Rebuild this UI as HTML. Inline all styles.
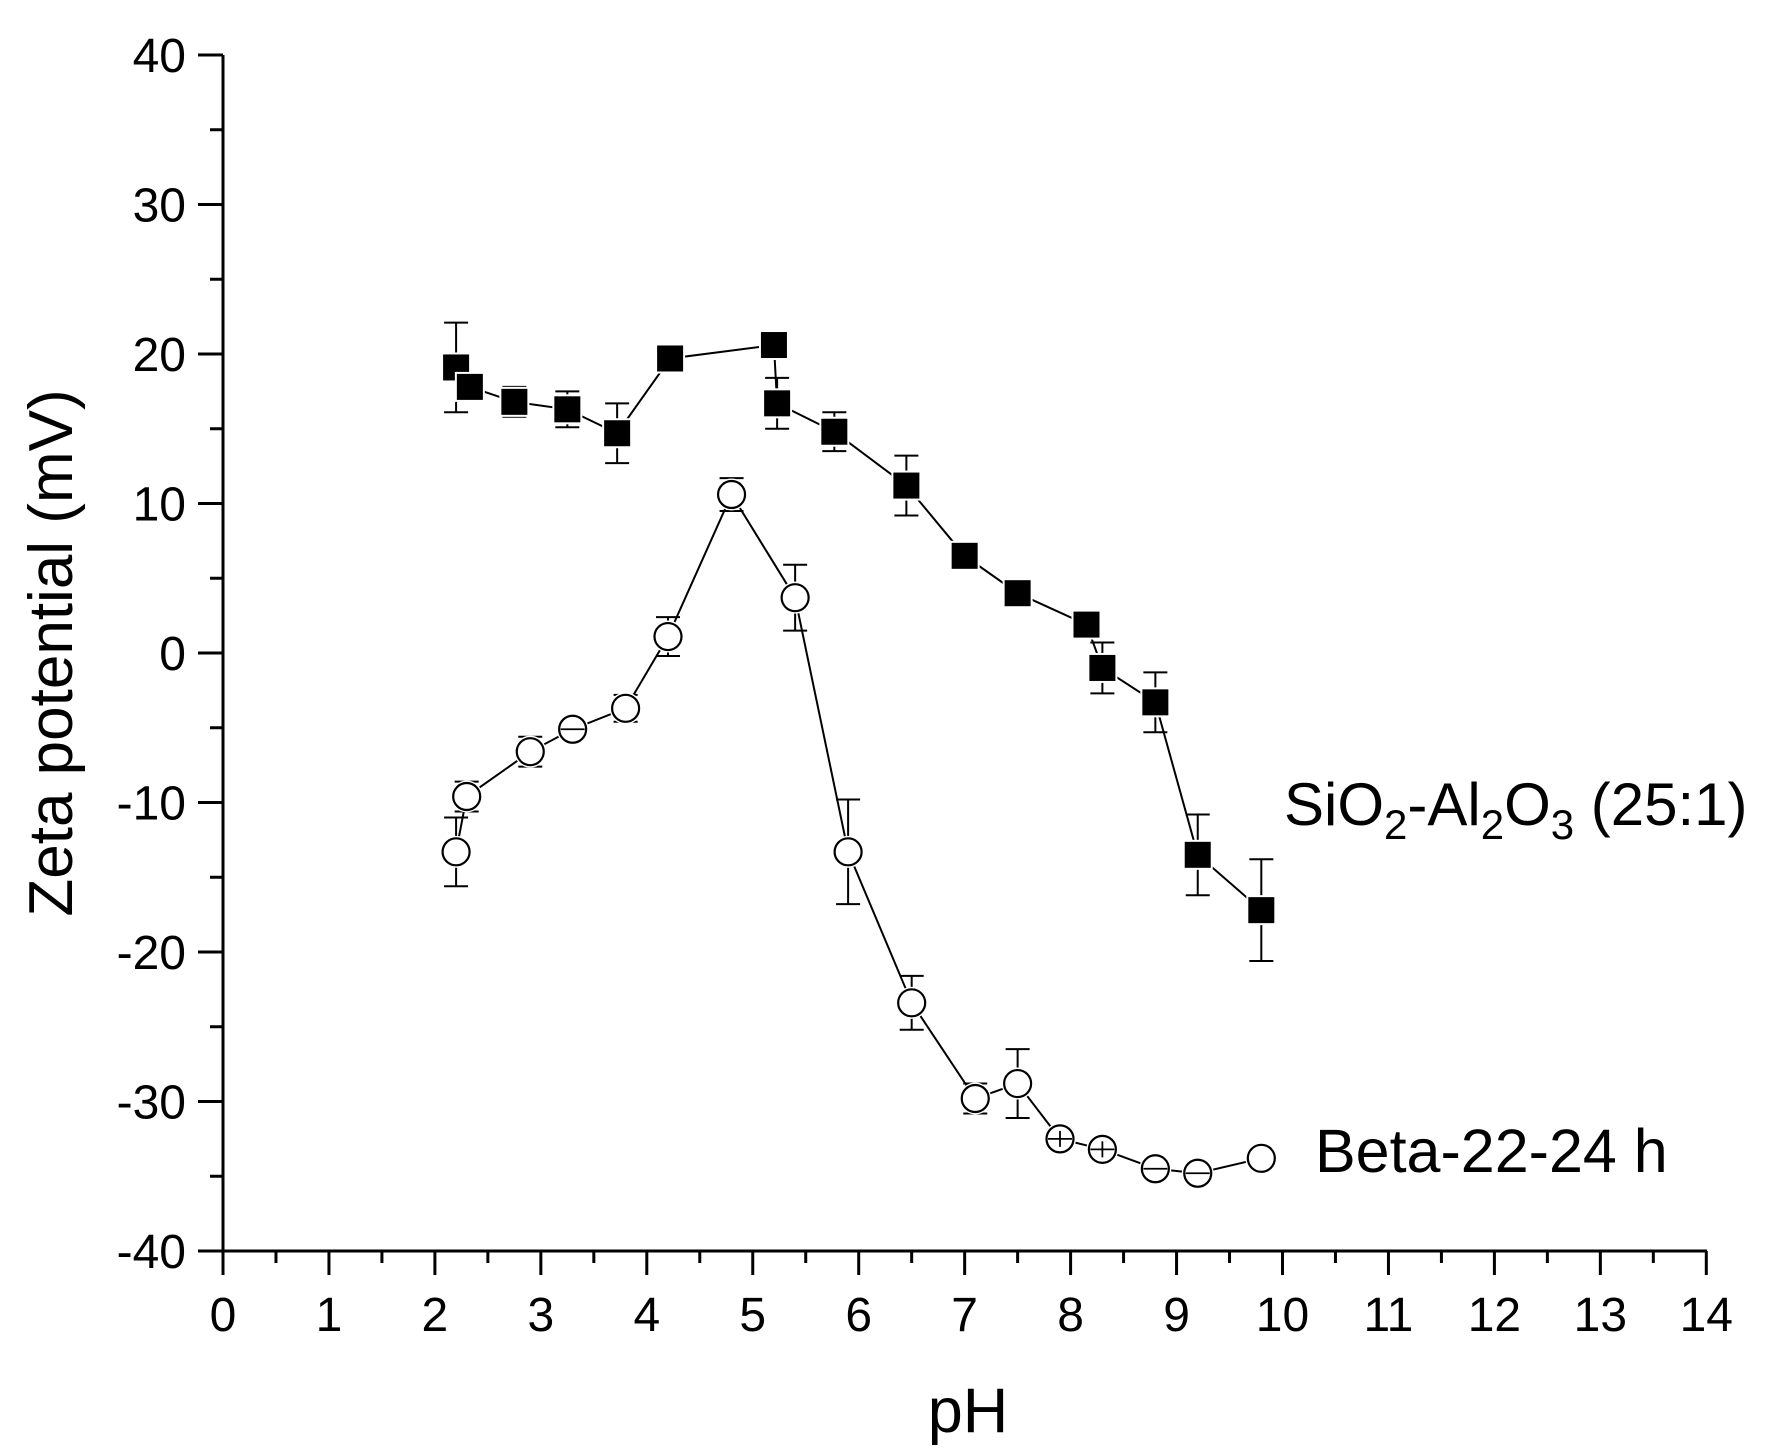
<!DOCTYPE html>
<html><head><meta charset="utf-8"><style>
html,body{margin:0;padding:0;background:#fff}
svg{display:block}
text{font-family:"Liberation Sans",Arial,sans-serif;fill:#000}
</style></head><body>
<svg id="c" width="1788" height="1456" viewBox="0 0 1788 1456" xmlns="http://www.w3.org/2000/svg">
<g stroke="#000" stroke-width="3" fill="none" id="axes"></g>
<g id="labels"></g>
<text x="968" y="1432" font-size="63" text-anchor="middle">pH</text>
<text transform="translate(72,653) rotate(-90)" font-size="62" text-anchor="middle">Zeta potential (mV)</text>
<text x="1284" y="825" font-size="60">SiO<tspan font-size="42" dy="14">2</tspan><tspan dy="-14">-Al</tspan><tspan font-size="42" dy="14">2</tspan><tspan dy="-14">O</tspan><tspan font-size="42" dy="14">3</tspan><tspan dy="-14"> (25:1)</tspan></text>
<text x="1315" y="1172" font-size="61">Beta-22-24 h</text>
<g id="data"></g>
</svg>
<script>
const NS="http://www.w3.org/2000/svg";
const X=p=>223+105.95*p, Y=v=>1251-(v+40)*14.95;
function el(parent,tag,attrs,txt){const e=document.createElementNS(NS,tag);for(const k in attrs)e.setAttribute(k,attrs[k]);if(txt!==undefined)e.textContent=txt;document.getElementById(parent).appendChild(e);return e;}
el('axes','line',{x1:223,y1:55,x2:223,y2:1252});
el('axes','line',{x1:198,y1:1251,x2:1707,y2:1251});
for(let v=-40;v<=40;v+=5){const y=Y(v);const maj=v%10===0;el('axes','line',{x1:maj?198:210,y1:y,x2:223,y2:y});
 if(maj)el('labels','text',{x:186,y:y+17,'font-size':48,'text-anchor':'end'},String(v));}
for(let p=0;p<=14;p+=0.5){const x=X(p);const maj=Number.isInteger(p);el('axes','line',{x1:x,y1:1251,x2:x,y2:maj?1275:1263});
 if(maj)el('labels','text',{x:x,y:1331,'font-size':48,'text-anchor':'middle'},String(p));}
const sq=[[2.2,19.1,3],[2.33,17.8,0],[2.75,16.8,1],[3.25,16.3,1.2],[3.72,14.7,2],[4.22,19.7,0],[5.2,20.6,0],[5.23,16.7,1.7],[5.77,14.8,1.3],[6.45,11.2,2],[7.0,6.5,0],[7.5,4.0,0],[8.15,1.9,0],[8.3,-1.0,1.7],[8.8,-3.3,2],[9.2,-13.5,2.7],[9.8,-17.2,3.4]];
// mark: 'c' cross, 'h' horizontal only
const ci=[[2.2,-13.3,2.3],[2.3,-9.6,1],[2.9,-6.6,1],[3.3,-5.1,0,'h'],[3.8,-3.7,0.9],[4.2,1.1,1.3],[4.8,10.6,1.1],[5.4,3.7,2.2],[5.9,-13.3,3.5],[6.5,-23.4,1.8],[7.1,-29.8,1],[7.5,-28.8,2.3],[7.9,-32.5,0,'c'],[8.3,-33.2,0,'c'],[8.8,-34.5,0,'h'],[9.2,-34.8,0,'h'],[9.8,-33.8,0]];
function series(d,type){
 el('data','polyline',{points:d.map(p=>X(p[0])+','+Y(p[1])).join(' '),fill:'none',stroke:'#000','stroke-width':2});
 d.forEach(p=>{if(!p[2])return;const x=X(p[0]),y1=Y(p[1]+p[2]),y2=Y(p[1]-p[2]);
  el('data','line',{x1:x,y1:y1,x2:x,y2:y2,stroke:'#000','stroke-width':2});
  el('data','line',{x1:x-12,y1:y1,x2:x+12,y2:y1,stroke:'#000','stroke-width':2});
  el('data','line',{x1:x-12,y1:y2,x2:x+12,y2:y2,stroke:'#000','stroke-width':2});});
 d.forEach(p=>{const x=X(p[0]),y=Y(p[1]);
  if(type==='s'){el('data','rect',{x:x-15,y:y-15,width:30,height:30,fill:'#fff'});el('data','rect',{x:x-13,y:y-13,width:26,height:26,fill:'#000'});}
  else{el('data','circle',{cx:x,cy:y,r:16,fill:'#fff'});el('data','circle',{cx:x,cy:y,r:13.5,fill:'none',stroke:'#000','stroke-width':2.2});
   if(p[3]){el('data','line',{x1:x-12,y1:y,x2:x+12,y2:y,stroke:'#000','stroke-width':1.8});
    if(p[3]==='c')el('data','line',{x1:x,y1:y-8,x2:x,y2:y+8,stroke:'#000','stroke-width':1.8});}}
 });
}
series(sq,'s');series(ci,'c');
</script>
</body></html>
